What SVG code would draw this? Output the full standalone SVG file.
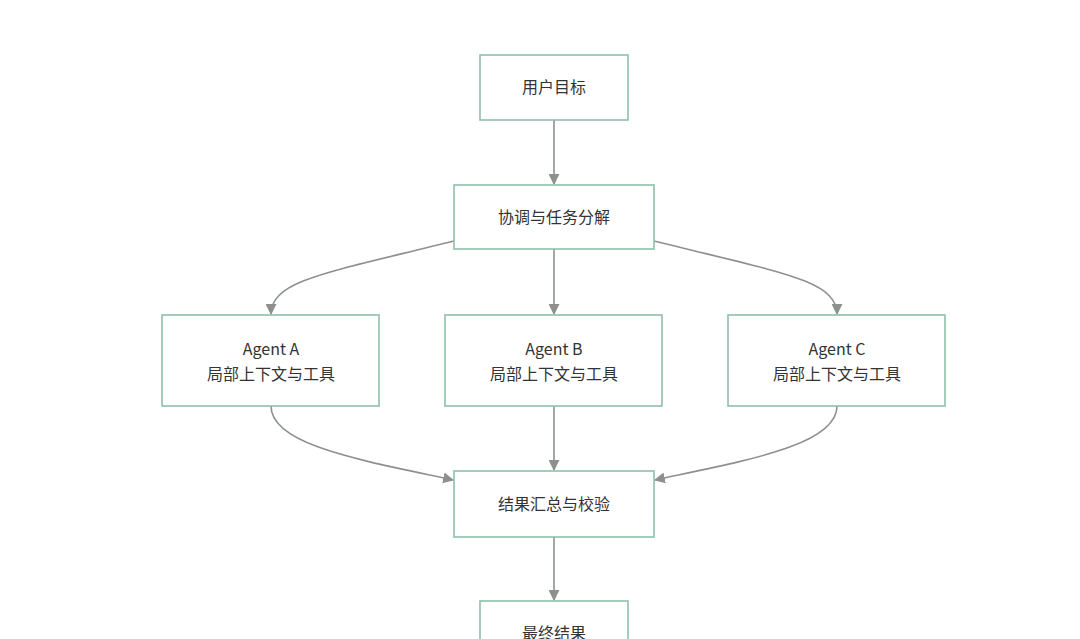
<svg xmlns="http://www.w3.org/2000/svg" width="1080" height="639" viewBox="0 0 1080 639">
<style>
.n{fill:#fff;stroke:#8fbfaa;stroke-width:1.6}
.t{font-family:"Noto Sans CJK SC","Noto Sans",sans-serif;font-size:16px;fill:#333;text-anchor:middle}
.e{fill:none;stroke:#8c918e;stroke-width:1.6;marker-end:url(#a)}
</style>
<defs><marker id="a" viewBox="0 0 10 10" refX="9" refY="5" markerWidth="11" markerHeight="11" markerUnits="userSpaceOnUse" orient="auto"><path d="M0,0L10,5L0,10z" fill="#8c918e"/></marker></defs>
<rect width="1080" height="639" fill="#fff"/>
<g id="connectors">
<path class="e" d="M554,120V184"/>
<path class="e" d="M454,241C330,272 271,280 271,314"/>
<path class="e" d="M554,249V314"/>
<path class="e" d="M654,241C778,272 837,280 837,314"/>
<path class="e" d="M271,406C271,445 360,460 453,480"/>
<path class="e" d="M554,406V470"/>
<path class="e" d="M837,406C837,445 748,460 655,480"/>
<path class="e" d="M554,537V600"/>
</g>
<g id="goal"><rect class="n" x="480" y="55" width="148" height="65"/><text class="t" x="554" y="93">用户目标</text></g>
<g id="coord"><rect class="n" x="454" y="185" width="200" height="64"/><text class="t" x="554" y="223">协调与任务分解</text></g>
<g id="agentA"><rect class="n" x="162" y="315" width="217" height="91"/><text class="t" x="271" y="355">Agent A</text><text class="t" x="271" y="380">局部上下文与工具</text></g>
<g id="agentB"><rect class="n" x="445" y="315" width="217" height="91"/><text class="t" x="554" y="355">Agent B</text><text class="t" x="554" y="380">局部上下文与工具</text></g>
<g id="agentC"><rect class="n" x="728" y="315" width="217" height="91"/><text class="t" x="837" y="355">Agent C</text><text class="t" x="837" y="380">局部上下文与工具</text></g>
<g id="merge"><rect class="n" x="454" y="471" width="200" height="66"/><text class="t" x="554" y="510">结果汇总与校验</text></g>
<g id="final"><rect class="n" x="480" y="601" width="148" height="65"/><text class="t" x="554" y="639">最终结果</text></g>
</svg>
